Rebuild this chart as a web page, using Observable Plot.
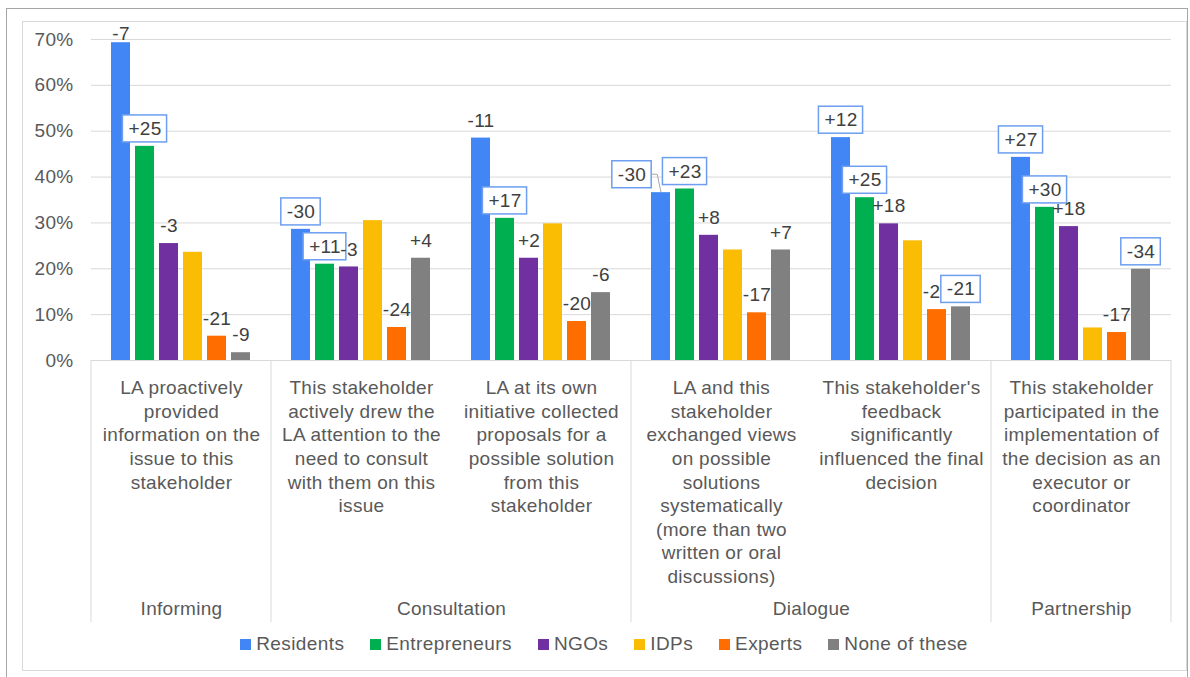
<!DOCTYPE html>
<html><head><meta charset="utf-8">
<script src="https://cdn.jsdelivr.net/npm/d3@7"></script>
<script src="https://cdn.jsdelivr.net/npm/@observablehq/plot@0.6"></script>
<style>
html,body{margin:0;padding:0;background:#fff;}
body{width:1190px;height:677px;position:relative;overflow:hidden;font-family:"Liberation Sans",Arial,sans-serif;}
#outer{position:absolute;left:6px;top:8px;width:1182px;height:690px;border:1px solid #a6a6a6;box-sizing:border-box;}
#inner{position:absolute;left:22px;top:21px;width:1165px;height:650px;border:1px solid #d9d9d9;box-sizing:border-box;}
#chart{position:absolute;left:0;top:0;}
#chart svg text{letter-spacing:0.3px;}
#legend{position:absolute;left:22px;width:1164px;top:633px;text-align:center;font-size:19px;line-height:22px;color:#595959;letter-spacing:0.4px;white-space:nowrap;}
.item{display:inline-block;margin:0 13px;}
.sw{display:inline-block;width:11px;height:11px;margin-right:5px;vertical-align:0px;}
</style></head><body>
<div id="outer"></div><div id="inner"></div>
<div id="chart"></div><div id="legend"></div>
<script>
// ---- data ----
const categories = [
  "LA proactively\nprovided\ninformation on the\nissue to this\nstakeholder",
  "This stakeholder\nactively drew the\nLA attention to the\nneed to consult\nwith them on this\nissue",
  "LA at its own\ninitiative collected\nproposals for a\npossible solution\nfrom this\nstakeholder",
  "LA and this\nstakeholder\nexchanged views\non possible\nsolutions\nsystematically\n(more than two\nwritten or oral\ndiscussions)",
  "This stakeholder's\nfeedback\nsignificantly\ninfluenced the final\ndecision",
  "This stakeholder\nparticipated in the\nimplementation of\nthe decision as an\nexecutor or\ncoordinator"
];
const groups = ["Informing", "Consultation", "Consultation", "Dialogue", "Dialogue", "Partnership"];
const series = ["Residents", "Entrepreneurs", "NGOs", "IDPs", "Experts", "None of these"];
const colors = ["#4285f4", "#00b050", "#7030a0", "#fbbc04", "#ff6d01", "#808080"];
const yTicks = [0, 10, 20, 30, 40, 50, 60, 70];

// bar values (%)
const residents     = [69.3, 28.6, 48.5, 36.6, 48.6, 44.3];
const entrepreneurs = [46.7, 21.0, 31.0, 37.4, 35.5, 33.4];
const ngos          = [25.5, 20.4, 22.3, 27.3, 29.8, 29.2];
const idps          = [23.6, 30.5, 29.8, 24.1, 26.1,  7.1];
const experts       = [ 5.3,  7.2,  8.5, 10.4, 11.1,  6.1];
const noneOfThese   = [ 1.7, 22.3, 14.8, 24.1, 11.7, 19.9];

// change labels (text shown above bars)
const residentsChange     = ["-7", "-30", "-11", "-30", "+12", "+27"];
const entrepreneursChange = ["+25", "+11", "+17", "+23", "+25", "+30"];
const ngosChange          = ["-3", "-3", "+2", "+8", "+18", "+18"];
const idpsChange          = ["", "", "", "", "", ""];
const expertsChange       = ["-21", "-24", "-20", "-17", "-20", "-17"]; // 5th: last digit hidden behind a box in the reference
const noneChange          = ["-9", "+4", "-6", "+7", "-21", "-34"];

// which change labels are framed
const residentsBoxed     = [false, true, false, true, true, true];
const entrepreneursBoxed = [true, true, true, true, true, true];
const ngosBoxed          = [false, false, false, false, false, false];
const idpsBoxed          = [false, false, false, false, false, false];
const expertsBoxed       = [false, false, false, false, false, false];
const noneBoxed          = [false, false, false, false, true, true];

// ---- table ----
const values = [residents, entrepreneurs, ngos, idps, experts, noneOfThese];
const changes = [residentsChange, entrepreneursChange, ngosChange, idpsChange, expertsChange, noneChange];
const boxed = [residentsBoxed, entrepreneursBoxed, ngosBoxed, idpsBoxed, expertsBoxed, noneBoxed];
const rows = [];
categories.forEach((cat, ci) => series.forEach((s, si) => rows.push({
  id: "r" + rows.length, cat, series: s, value: values[si][ci], label: changes[si][ci], boxed: boxed[si][ci], ci, si
})));
const labelRows = rows.filter(d => d.label !== "");
const isNudged = d => d.ci === 3 && d.si === 0; // label moved aside with a leader line
const groupStarts = [];
groups.forEach((g, i) => {
  if (i === 0 || groups[i - 1] !== g) groupStarts.push({cat: categories[i], name: g, span: groups.filter(x => x === g).length});
});

const NDX = -29, NDY = -18;
const font = '"Liberation Sans", Arial, sans-serif';

const chart = Plot.plot({
  width: 1190, height: 625,
  marginLeft: 90, marginRight: 19, marginTop: 39, marginBottom: 265,
  style: {fontFamily: font, fontSize: "19px", color: "#595959", background: "transparent", overflow: "visible"},
  fx: {domain: categories, paddingInner: 0, paddingOuter: 0, label: null},
  x: {domain: series, paddingInner: 0.2, paddingOuter: 0.85, axis: null},
  y: {domain: [0, 70], label: null},
  color: {domain: series, range: colors},
  marks: [
    Plot.gridY(yTicks, {stroke: "#d9d9d9", strokeOpacity: 1}),
    Plot.axisY(yTicks, {tickSize: 0, tickPadding: 18, tickFormat: d => d + "%", label: null}),
    Plot.axisFx({anchor: "bottom", tickSize: 0, tickPadding: 17, lineHeight: 1.242, label: null}),
    Plot.barY(rows, {fx: "cat", x: "series", y: "value", fill: "series"}),
    Plot.text(labelRows.filter(d => !isNudged(d)), {fx: "cat", x: "series", y: "value", text: "label", title: "id", lineAnchor: "middle", dy: -17.5, fill: "#404040"}),
    Plot.text(labelRows.filter(isNudged), {fx: "cat", x: "series", y: "value", text: "label", title: "id", lineAnchor: "middle", dx: NDX, dy: NDY, fill: "#404040"}),
    Plot.text(groupStarts.filter(d => d.span === 1), {fx: "cat", text: "name", frameAnchor: "bottom", textAnchor: "middle", lineAnchor: "middle", dy: 248}),
    Plot.text(groupStarts.filter(d => d.span === 2), {fx: "cat", text: "name", frameAnchor: "bottom-right", textAnchor: "middle", lineAnchor: "middle", dy: 248})
  ]
});
document.getElementById("chart").appendChild(chart);

// ---- post: boxes around framed labels, leader line, keep labels inside chart area ----
const byId = new Map(rows.map(d => [d.id, d]));
const svgTop = chart.getBoundingClientRect().top;
const NS = "http://www.w3.org/2000/svg";
d3.select(chart).selectAll("text").each(function () {
  const t = this.querySelector("title");
  if (!t) return;
  const d = byId.get(t.textContent);
  t.remove();
  if (!d) return;
  const top = this.getBoundingClientRect().top - svgTop;
  if (top < 23) this.setAttribute("transform", (this.getAttribute("transform") || "") + ` translate(0,${23 - top})`);
  const bb = this.getBBox();
  const tr = this.getAttribute("transform") || "";
  if (d.boxed) {
    const r = document.createElementNS(NS, "rect");
    r.setAttribute("x", bb.x - 6); r.setAttribute("y", bb.y - 3);
    r.setAttribute("width", bb.width + 11); r.setAttribute("height", bb.height + 6);
    r.setAttribute("fill", "#fff"); r.setAttribute("stroke", "#6d9ef0"); r.setAttribute("stroke-width", 1.5);
    r.setAttribute("transform", tr);
    this.parentNode.insertBefore(r, this);
  }
  if (isNudged(d)) {
    const cx = bb.x + bb.width / 2, cy = bb.y + bb.height / 2;
    const x0 = bb.x + bb.width + 5;
    const p = document.createElementNS(NS, "polyline");
    p.setAttribute("points", `${x0},${cy} ${x0 + 6},${cy} ${cx - NDX},${cy - NDY}`);
    p.setAttribute("fill", "none"); p.setAttribute("stroke", "#a6a6a6"); p.setAttribute("stroke-width", 1);
    p.setAttribute("transform", tr);
    this.parentNode.insertBefore(p, this);
  }
});

// separators of the category groups, from the fx and y scales
const fx = chart.scale("fx"), ys = chart.scale("y");
const y0 = ys.apply(0);
const sepX = [];
groups.forEach((g, i) => { if (i === 0 || groups[i - 1] !== g) sepX.push(fx.apply(categories[i])); });
sepX.push(fx.apply(categories[categories.length - 1]) + fx.bandwidth);
d3.select(chart).append("g").selectAll("line").data(sepX).join("line")
  .attr("x1", d => d).attr("x2", d => d).attr("y1", y0).attr("y2", y0 + 262)
  .attr("stroke", "#d9d9d9").attr("stroke-width", 1);

// legend
const legend = d3.select("#legend");
series.forEach((s, i) => {
  const it = legend.append("span").attr("class", "item");
  it.append("span").attr("class", "sw").style("background", colors[i]);
  it.append("span").text(s);
});
</script></body></html>
